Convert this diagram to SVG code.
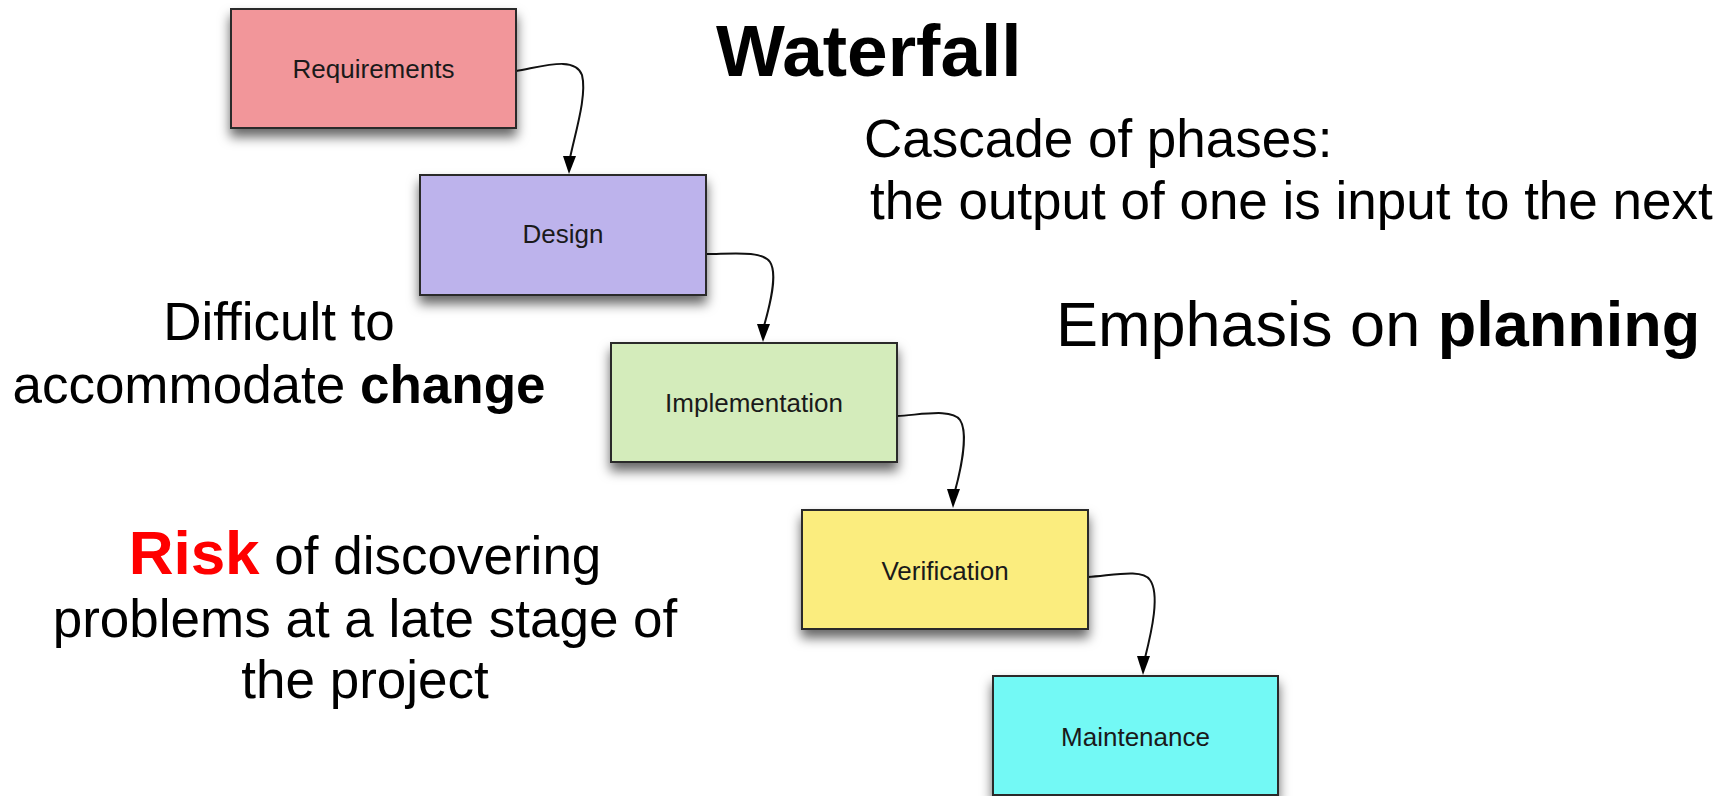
<svg xmlns="http://www.w3.org/2000/svg" width="1723" height="796" viewBox="0 0 1723 796">
<style>
  .box { stroke: #2a2a2a; stroke-width: 2; filter: url(#shadow); }
  .lbl { font-family: "Liberation Sans", Arial, sans-serif; font-size: 26px; fill: #1a1a1a; text-anchor: middle; }
  .txt { font-family: "Liberation Sans", Arial, sans-serif; font-size: 53px; fill: #000; }
  .b { font-weight: bold; }
  .conn { fill: none; stroke: #111; stroke-width: 2; }
  .head { fill: #000; }
</style>
<defs>
  <filter id="shadow" x="-20%" y="-20%" width="140%" height="170%">
    <feDropShadow dx="0" dy="8" stdDeviation="6" flood-color="#000" flood-opacity="0.6"/>
  </filter>
</defs>
<rect width="1723" height="796" fill="#fff"/>

<g id="connectors">
  <path class="conn" d="M516,71 C545,66 575,56 582,75 C587,95 576,130 570,158"/>
  <path class="head" d="M563,156 L576,156 L569,174 Z"/>
  <path class="conn" d="M706,254 C730,254 762,250 770,262 C778,274 770,305 764,326"/>
  <path class="head" d="M757,324 L770,324 L763,342 Z"/>
  <path class="conn" d="M897,416 C920,415 952,408 960,420 C968,432 962,465 955,491"/>
  <path class="head" d="M947,489 L960,489 L953,508 Z"/>
  <path class="conn" d="M1088,577 C1110,576 1142,568 1150,580 C1160,594 1152,630 1145,658"/>
  <path class="head" d="M1137,656 L1150,656 L1143,675 Z"/>
</g>

<g id="requirements">
  <rect class="box" x="231" y="9" width="285" height="119" fill="#F2969A"/>
  <text class="lbl" x="373.5" y="78">Requirements</text>
</g>
<g id="design">
  <rect class="box" x="420" y="175" width="286" height="120" fill="#BDB3EC"/>
  <text class="lbl" x="563" y="243">Design</text>
</g>
<g id="implementation">
  <rect class="box" x="611" y="343" width="286" height="119" fill="#D4ECBB"/>
  <text class="lbl" x="754" y="412">Implementation</text>
</g>
<g id="verification">
  <rect class="box" x="802" y="510" width="286" height="119" fill="#FBED7E"/>
  <text class="lbl" x="945" y="580">Verification</text>
</g>
<g id="maintenance">
  <rect class="box" x="993" y="676" width="285" height="119" fill="#73F9F5"/>
  <text class="lbl" x="1135.5" y="746">Maintenance</text>
</g>

<g id="texts">
  <text class="txt b" x="716" y="76" style="font-size:73px">Waterfall</text>
  <text class="txt" x="864" y="157">Cascade of phases:</text>
  <text class="txt" x="870" y="219">the output of one is input to the next</text>
  <text class="txt" x="1056" y="346" style="font-size:63px">Emphasis on <tspan class="b">planning</tspan></text>
  <text class="txt" x="279" y="340" text-anchor="middle">Difficult to</text>
  <text class="txt" x="279" y="403" text-anchor="middle">accommodate <tspan class="b">change</tspan></text>
  <text class="txt" x="365" y="574" text-anchor="middle"><tspan class="b" fill="#FF0000" style="font-size:62px">Risk</tspan> of discovering</text>
  <text class="txt" x="365" y="637" text-anchor="middle">problems at a late stage of</text>
  <text class="txt" x="365" y="698" text-anchor="middle">the project</text>
</g>
</svg>
